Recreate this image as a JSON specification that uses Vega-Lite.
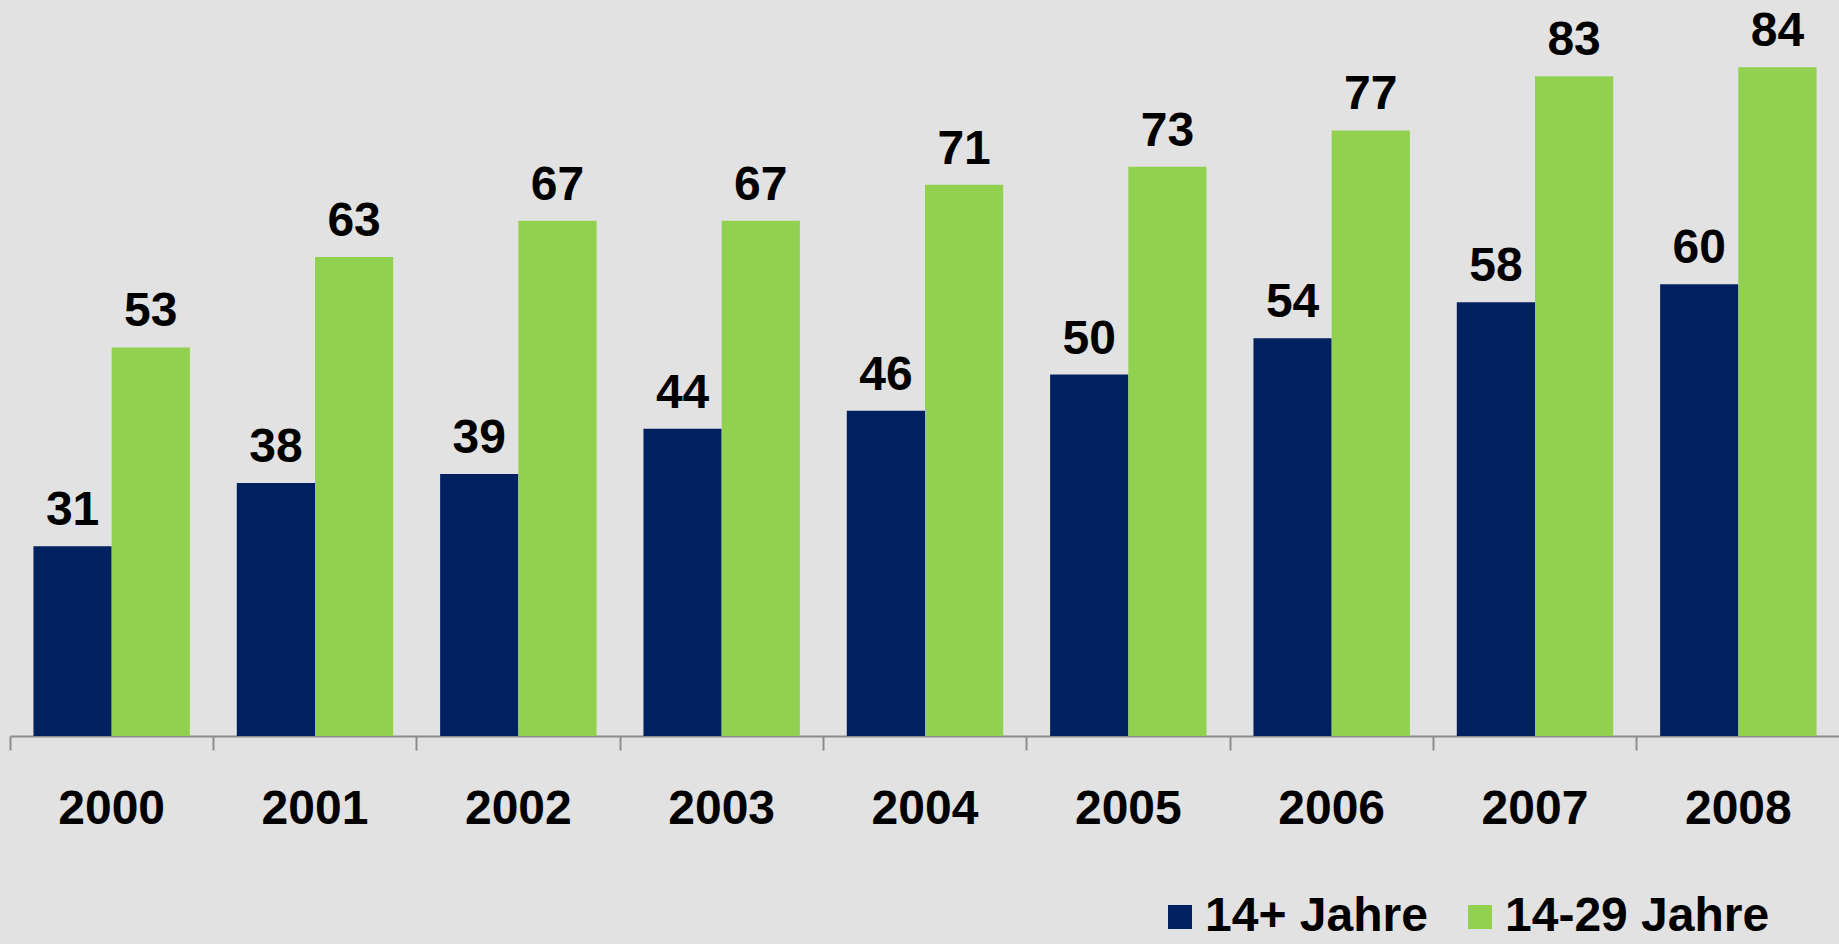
{
  "$schema": "https://vega.github.io/schema/vega-lite/v6.json",
  "autosize": {"type": "none"},
  "width": 1830,
  "height": 723,
  "padding": {"left": 10, "top": 13, "right": 0, "bottom": 208},
  "background": "#e2e2e2",
  "config": {
    "view": {"stroke": null},
    "font": "Liberation Sans"
  },
  "data": {
    "values": [
      {"year": "2000", "group": "14+ Jahre", "value": 31},
      {"year": "2000", "group": "14-29 Jahre", "value": 53},
      {"year": "2001", "group": "14+ Jahre", "value": 38},
      {"year": "2001", "group": "14-29 Jahre", "value": 63},
      {"year": "2002", "group": "14+ Jahre", "value": 39},
      {"year": "2002", "group": "14-29 Jahre", "value": 67},
      {"year": "2003", "group": "14+ Jahre", "value": 44},
      {"year": "2003", "group": "14-29 Jahre", "value": 67},
      {"year": "2004", "group": "14+ Jahre", "value": 46},
      {"year": "2004", "group": "14-29 Jahre", "value": 71},
      {"year": "2005", "group": "14+ Jahre", "value": 50},
      {"year": "2005", "group": "14-29 Jahre", "value": 73},
      {"year": "2006", "group": "14+ Jahre", "value": 54},
      {"year": "2006", "group": "14-29 Jahre", "value": 77},
      {"year": "2007", "group": "14+ Jahre", "value": 58},
      {"year": "2007", "group": "14-29 Jahre", "value": 83},
      {"year": "2008", "group": "14+ Jahre", "value": 60},
      {"year": "2008", "group": "14-29 Jahre", "value": 84}
    ]
  },
  "encoding": {
    "x": {
      "field": "year", "type": "nominal",
      "scale": {"paddingInner": 0, "paddingOuter": 0},
      "axis": {
        "title": null, "labelAngle": 0, "bandPosition": 0,
        "labelFont": "Liberation Sans", "labelFontSize": 48, "labelFontWeight": "bold",
        "labelColor": "#000000", "labelPadding": 35, "labelBaseline": "top",
        "tickSize": 14, "tickColor": "#8c8c8c", "tickWidth": 2,
        "domainColor": "#8c8c8c", "domainWidth": 2, "labelFlush": false
      }
    },
    "xOffset": {
      "field": "group", "type": "nominal",
      "scale": {"paddingOuter": 0.3, "paddingInner": 0},
      "sort": ["14+ Jahre", "14-29 Jahre"]
    },
    "y": {
      "field": "value", "type": "quantitative",
      "scale": {"domain": [10, 90], "zero": false, "nice": false},
      "axis": null
    }
  },
  "layer": [
    {
      "mark": {"type": "bar", "clip": true},
      "encoding": {
        "y2": {"datum": 10},
        "color": {
          "field": "group", "type": "nominal",
          "scale": {"domain": ["14+ Jahre", "14-29 Jahre"], "range": ["#002060", "#92d050"]},
          "legend": {
            "title": null, "orient": "none", "direction": "horizontal",
            "legendX": 1146, "legendY": 880,
            "symbolType": "square", "symbolSize": 576, "symbolStrokeWidth": 0,
            "labelFont": "Liberation Sans", "labelFontSize": 48, "labelFontWeight": "bold",
            "labelColor": "#000000", "labelOffset": 1, "columnPadding": 28,
            "padding": 0, "labelLimit": 400
          }
        }
      }
    },
    {
      "mark": {
        "type": "text", "baseline": "alphabetic", "dy": -21,
        "font": "Liberation Sans", "fontSize": 48, "fontWeight": "bold", "color": "#000000"
      },
      "encoding": {
        "text": {"field": "value", "type": "quantitative"}
      }
    }
  ]
}
